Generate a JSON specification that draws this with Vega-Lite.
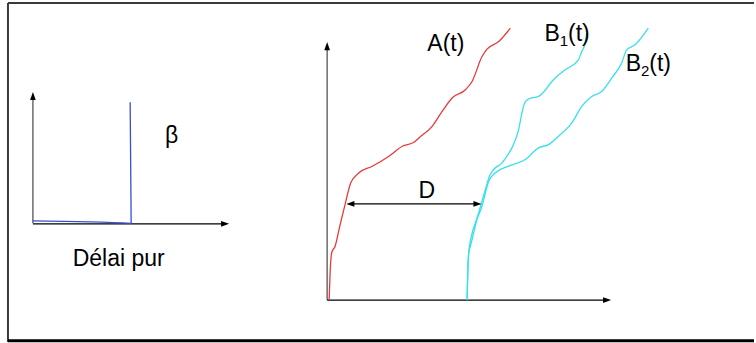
{
  "$schema": "https://vega.github.io/schema/vega-lite/v6.json",
  "width": 756,
  "height": 343,
  "padding": 0,
  "autosize": {"type": "fit", "contains": "padding"},
  "background": "white",
  "config": {"view": {"stroke": null}},
  "datasets": {
    "segs": [
      {"kind": "frame", "x": 8, "y": 3, "x2": 756, "y2": 3},
      {"kind": "frame", "x": 8, "y": 3, "x2": 8, "y2": 343},
      {"kind": "bottom", "x": 8, "y": 341.8, "x2": 756, "y2": 341.8},
      {"kind": "gaxis", "x": 33, "y": 224, "x2": 33, "y2": 96},
      {"kind": "baxis", "x": 33, "y": 224.5, "x2": 226, "y2": 224.5},
      {"kind": "gaxis", "x": 328, "y": 301, "x2": 328, "y2": 46},
      {"kind": "baxis", "x": 328, "y": 301, "x2": 609, "y2": 301},
      {"kind": "baxis", "x": 350, "y": 204.5, "x2": 480, "y2": 204.5}
    ],
    "curves": [
      {"s": "beta", "i": 0, "x": 32.7, "y": 221.5},
      {"s": "beta", "i": 1, "x": 131.5, "y": 224},
      {"s": "beta", "i": 2, "x": 130.5, "y": 102.5},
      {"s": "A", "i": 0, "x": 330, "y": 301},
      {"s": "A", "i": 1, "x": 331, "y": 273},
      {"s": "A", "i": 2, "x": 332.7, "y": 253},
      {"s": "A", "i": 3, "x": 336, "y": 247},
      {"s": "A", "i": 4, "x": 340.7, "y": 226.7},
      {"s": "A", "i": 5, "x": 346, "y": 205},
      {"s": "A", "i": 6, "x": 351.7, "y": 183.3},
      {"s": "A", "i": 7, "x": 360, "y": 173.3},
      {"s": "A", "i": 8, "x": 373.3, "y": 166.7},
      {"s": "A", "i": 9, "x": 390, "y": 156.7},
      {"s": "A", "i": 10, "x": 403.3, "y": 146.7},
      {"s": "A", "i": 11, "x": 415, "y": 142.7},
      {"s": "A", "i": 12, "x": 420, "y": 138.3},
      {"s": "A", "i": 13, "x": 433.3, "y": 126.7},
      {"s": "A", "i": 14, "x": 443.3, "y": 111.7},
      {"s": "A", "i": 15, "x": 453.3, "y": 98.3},
      {"s": "A", "i": 16, "x": 466.7, "y": 90},
      {"s": "A", "i": 17, "x": 473.3, "y": 81.7},
      {"s": "A", "i": 18, "x": 483.3, "y": 56.7},
      {"s": "A", "i": 19, "x": 488.3, "y": 49.3},
      {"s": "A", "i": 20, "x": 500, "y": 41.7},
      {"s": "A", "i": 21, "x": 511.7, "y": 28.3},
      {"s": "B1", "i": 0, "x": 468.3, "y": 301},
      {"s": "B1", "i": 1, "x": 469, "y": 273.3},
      {"s": "B1", "i": 2, "x": 470, "y": 253.3},
      {"s": "B1", "i": 3, "x": 472.7, "y": 236.7},
      {"s": "B1", "i": 4, "x": 476.7, "y": 223.3},
      {"s": "B1", "i": 5, "x": 480, "y": 213.3},
      {"s": "B1", "i": 6, "x": 483.3, "y": 201.7},
      {"s": "B1", "i": 7, "x": 486.7, "y": 190},
      {"s": "B1", "i": 8, "x": 490.7, "y": 176.7},
      {"s": "B1", "i": 9, "x": 495, "y": 170},
      {"s": "B1", "i": 10, "x": 503.3, "y": 163.3},
      {"s": "B1", "i": 11, "x": 509.3, "y": 155},
      {"s": "B1", "i": 12, "x": 513.3, "y": 148.3},
      {"s": "B1", "i": 13, "x": 520, "y": 130},
      {"s": "B1", "i": 14, "x": 523.3, "y": 113.3},
      {"s": "B1", "i": 15, "x": 526, "y": 103.3},
      {"s": "B1", "i": 16, "x": 530, "y": 99.3},
      {"s": "B1", "i": 17, "x": 540, "y": 96.7},
      {"s": "B1", "i": 18, "x": 548.3, "y": 88.3},
      {"s": "B1", "i": 19, "x": 550.7, "y": 85},
      {"s": "B1", "i": 20, "x": 556.7, "y": 78.3},
      {"s": "B1", "i": 21, "x": 566.7, "y": 70},
      {"s": "B1", "i": 22, "x": 580, "y": 60},
      {"s": "B1", "i": 23, "x": 583.3, "y": 51.7},
      {"s": "B1", "i": 24, "x": 586.7, "y": 43.3},
      {"s": "B1", "i": 25, "x": 588.3, "y": 33.3},
      {"s": "B2", "i": 0, "x": 468.3, "y": 301},
      {"s": "B2", "i": 1, "x": 469, "y": 273.3},
      {"s": "B2", "i": 2, "x": 470, "y": 253.3},
      {"s": "B2", "i": 3, "x": 471.7, "y": 246.7},
      {"s": "B2", "i": 4, "x": 475, "y": 233.3},
      {"s": "B2", "i": 5, "x": 478.3, "y": 220},
      {"s": "B2", "i": 6, "x": 483.3, "y": 206.7},
      {"s": "B2", "i": 7, "x": 486.7, "y": 193.3},
      {"s": "B2", "i": 8, "x": 490, "y": 181.7},
      {"s": "B2", "i": 9, "x": 496.7, "y": 173.3},
      {"s": "B2", "i": 10, "x": 510, "y": 166.7},
      {"s": "B2", "i": 11, "x": 526.7, "y": 160},
      {"s": "B2", "i": 12, "x": 540, "y": 148.3},
      {"s": "B2", "i": 13, "x": 550, "y": 145},
      {"s": "B2", "i": 14, "x": 560, "y": 136.7},
      {"s": "B2", "i": 15, "x": 573.3, "y": 123.3},
      {"s": "B2", "i": 16, "x": 583.3, "y": 106.7},
      {"s": "B2", "i": 17, "x": 593.3, "y": 96.7},
      {"s": "B2", "i": 18, "x": 603.3, "y": 91.7},
      {"s": "B2", "i": 19, "x": 613.3, "y": 78.3},
      {"s": "B2", "i": 20, "x": 623.3, "y": 63.3},
      {"s": "B2", "i": 21, "x": 628.3, "y": 50},
      {"s": "B2", "i": 22, "x": 636.7, "y": 45},
      {"s": "B2", "i": 23, "x": 650, "y": 28.3}
    ],
    "arrows": [
      {"dir": "up", "x": 33, "y": 97},
      {"dir": "right", "x": 225, "y": 224.5},
      {"dir": "up", "x": 328, "y": 47},
      {"dir": "right", "x": 608, "y": 301},
      {"dir": "left", "x": 352, "y": 204.5},
      {"dir": "right", "x": 478, "y": 204.5}
    ],
    "labels": [
      {"t": "β", "x": 172, "y": 136},
      {"t": "Délai pur", "x": 119, "y": 260},
      {"t": "A(t)", "x": 447, "y": 44},
      {"t": "D", "x": 428, "y": 192}
    ],
    "leftlabels": [
      {"t": "B", "x": 546, "y": 34},
      {"t": "(t)", "x": 569.5, "y": 34},
      {"t": "B", "x": 627.5, "y": 64},
      {"t": "(t)", "x": 651, "y": 64}
    ],
    "subs": [
      {"t": "1", "x": 561.3, "y": 41.5},
      {"t": "2", "x": 642.8, "y": 71.5}
    ]
  },
  "layer": [
    {
      "data": {"name": "segs"},
      "transform": [{"filter": "datum.kind === 'frame'"}],
      "mark": {"type": "rule", "color": "#3a3a3a", "strokeWidth": 2},
      "encoding": {
        "x": {"field": "x", "type": "quantitative", "scale": {"domain": [0, 756], "nice": false, "zero": false}, "axis": null},
        "y": {"field": "y", "type": "quantitative", "scale": {"domain": [0, 343], "reverse": true, "nice": false, "zero": false}, "axis": null},
        "x2": {"field": "x2"},
        "y2": {"field": "y2"}
      }
    },
    {
      "data": {"name": "segs"},
      "transform": [{"filter": "datum.kind === 'bottom'"}],
      "mark": {"type": "rule", "color": "#000000", "strokeWidth": 3},
      "encoding": {
        "x": {"field": "x", "type": "quantitative"},
        "y": {"field": "y", "type": "quantitative"},
        "x2": {"field": "x2"},
        "y2": {"field": "y2"}
      }
    },
    {
      "data": {"name": "segs"},
      "transform": [{"filter": "datum.kind === 'gaxis'"}],
      "mark": {"type": "rule", "color": "#555555", "strokeWidth": 1.3},
      "encoding": {
        "x": {"field": "x", "type": "quantitative"},
        "y": {"field": "y", "type": "quantitative"},
        "x2": {"field": "x2"},
        "y2": {"field": "y2"}
      }
    },
    {
      "data": {"name": "segs"},
      "transform": [{"filter": "datum.kind === 'baxis'"}],
      "mark": {"type": "rule", "color": "#000000", "strokeWidth": 1.3},
      "encoding": {
        "x": {"field": "x", "type": "quantitative"},
        "y": {"field": "y", "type": "quantitative"},
        "x2": {"field": "x2"},
        "y2": {"field": "y2"}
      }
    },
    {
      "data": {"name": "curves"},
      "mark": {"type": "line", "strokeWidth": 1.3, "interpolate": "monotone"},
      "encoding": {
        "x": {"field": "x", "type": "quantitative"},
        "y": {"field": "y", "type": "quantitative"},
        "detail": {"field": "s"},
        "order": {"field": "i", "type": "quantitative"},
        "color": {"field": "s", "type": "nominal", "legend": null,
          "scale": {"domain": ["beta", "A", "B1", "B2"], "range": ["#3a4fd0", "#e83a3a", "#38e0ee", "#38e0ee"]}}
      }
    },
    {
      "data": {"name": "arrows"},
      "mark": {"type": "point", "filled": true, "color": "#000000", "opacity": 1, "size": 90, "strokeWidth": 0},
      "encoding": {
        "x": {"field": "x", "type": "quantitative"},
        "y": {"field": "y", "type": "quantitative"},
        "shape": {"field": "dir", "type": "nominal", "legend": null,
          "scale": {"domain": ["up", "right", "left"], "range": ["M0,-1L-0.6,0.7L0.6,0.7Z", "M1,0L-0.7,-0.6L-0.7,0.6Z", "M-1,0L0.7,-0.6L0.7,0.6Z"]}}
      }
    },
    {
      "data": {"name": "labels"},
      "mark": {"type": "text", "font": "Liberation Sans", "fontSize": 23, "color": "#000000", "align": "center", "baseline": "middle"},
      "encoding": {
        "x": {"field": "x", "type": "quantitative"},
        "y": {"field": "y", "type": "quantitative"},
        "text": {"field": "t"}
      }
    },
    {
      "data": {"name": "leftlabels"},
      "mark": {"type": "text", "font": "Liberation Sans", "fontSize": 23, "color": "#000000", "align": "left", "baseline": "middle"},
      "encoding": {
        "x": {"field": "x", "type": "quantitative"},
        "y": {"field": "y", "type": "quantitative"},
        "text": {"field": "t"}
      }
    },
    {
      "data": {"name": "subs"},
      "mark": {"type": "text", "font": "Liberation Sans", "fontSize": 15, "color": "#000000", "align": "left", "baseline": "middle"},
      "encoding": {
        "x": {"field": "x", "type": "quantitative"},
        "y": {"field": "y", "type": "quantitative"},
        "text": {"field": "t"}
      }
    }
  ]
}
